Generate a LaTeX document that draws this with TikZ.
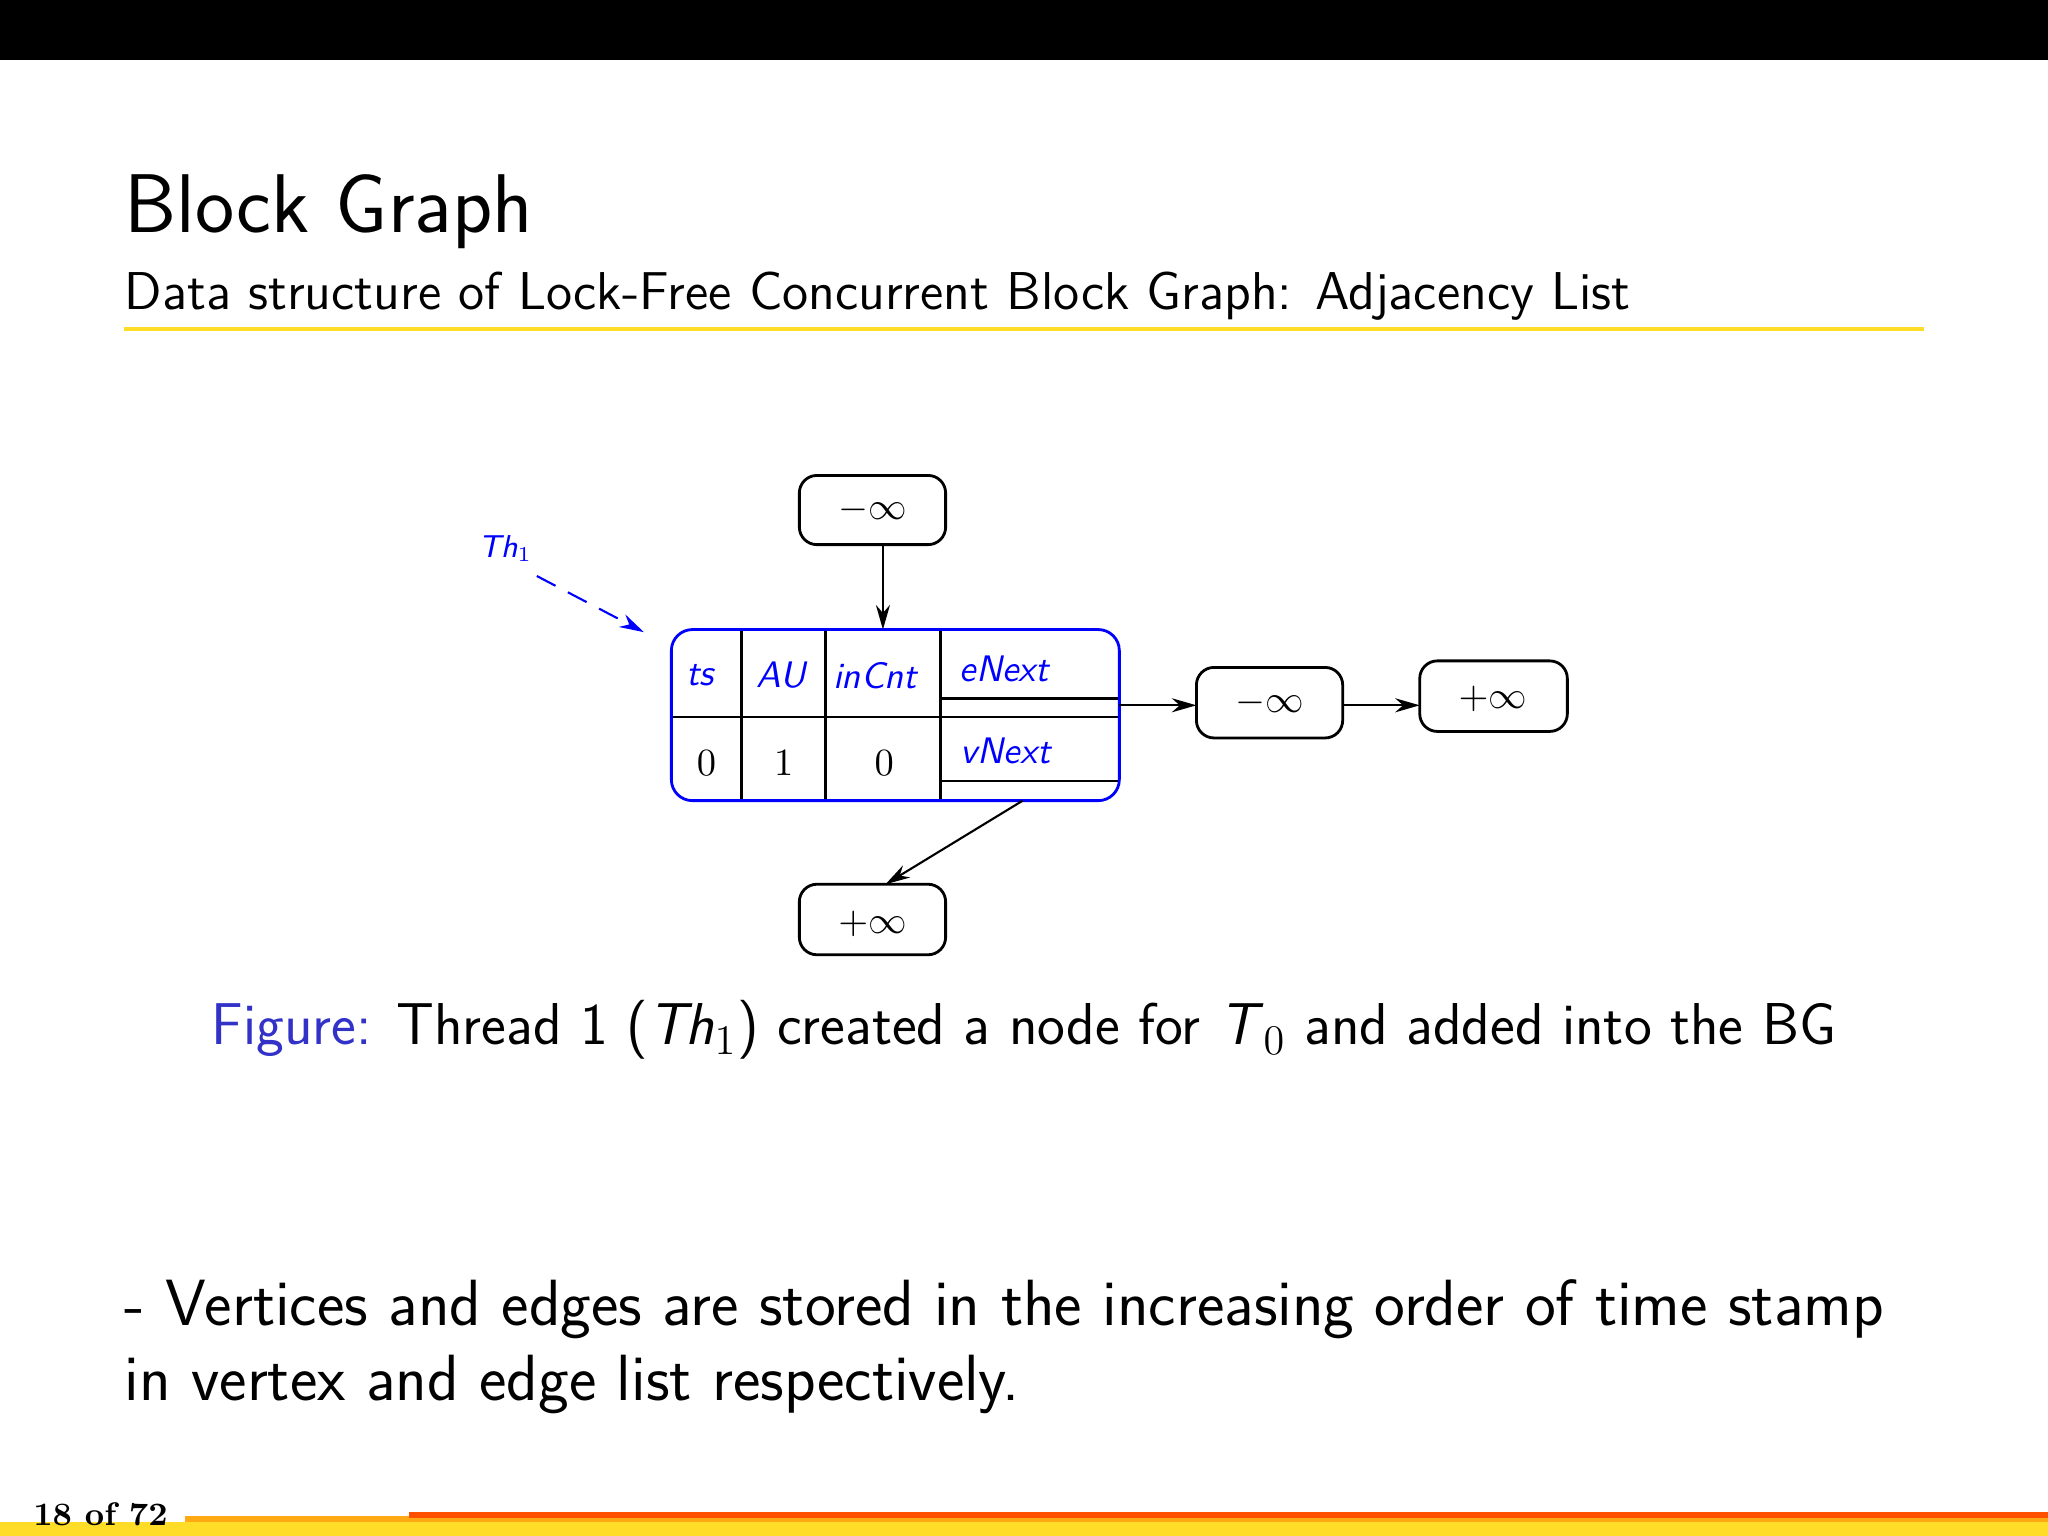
\documentclass[tikz,border=0pt]{standalone}
\usetikzlibrary{arrows.meta}
\definecolor{fig}{RGB}{50,50,200}
\definecolor{ylw}{RGB}{255,220,40}
\definecolor{org}{RGB}{255,170,20}
\definecolor{rd}{RGB}{255,80,0}
\begin{document}
\begin{tikzpicture}[x=0.013061cm,y=-0.013061cm,
  box/.style={draw,rounded corners=5pt,line width=0.8pt},
  arr/.style={-{Stealth[length=7pt,width=4pt]},line width=0.6pt},
  lab/.style={font=\sffamily\itshape\fontsize{10.5}{12}\selectfont,text=blue},
  inf/.style={font=\fontsize{11}{12}\selectfont}]
\useasboundingbox (0,0) rectangle (1568,1176);
\fill[black] (0,0) rectangle (1568,46);
\node[anchor=base west,inner sep=0,font=\sffamily\fontsize{23.7}{28}\selectfont] (title) at (95,178) {Block Graph};
\node[anchor=base west,inner sep=0,font=\sffamily\fontsize{15.15}{18}\selectfont] (sub) at (95,237) {Data structure of Lock-Free Concurrent Block Graph: Adjacency List};
\fill[ylw] (95,250.5) rectangle (1473,253.5);
% boxes
\draw[box] (612,364) rectangle (724,417); \node[inf] (mtop) at (668,390) {$-\infty$};
\draw[box] (916,511) rectangle (1028,565); \node[inf] (m2) at (972,538) {$-\infty$};
\draw[box] (1087,506) rectangle (1200,560); \node[inf] (p2) at (1143,535) {$+\infty$};
\draw[box] (612,677) rectangle (724,731); \node[inf] (pbot) at (668,707) {$+\infty$};
% table
\draw[line width=0.8pt] (568,482)--(568,613) (632,482)--(632,613) (720,482)--(720,613)
  (514,549)--(857,549) (720,535)--(857,535) (720,598)--(857,598);
\draw[blue,line width=0.8pt,rounded corners=6pt] (514,482) rectangle (857,613);
\node[lab] (ts) at (536,517) {ts};
\node[lab] (au) at (598,517) {AU};
\node[lab] (ic) at (670,517) {inCnt};
\node[lab] (en) at (769,512) {eNext};
\node[lab] (vn) at (770,575) {vNext};
\node[inf] (c0) at (541,584) {$0$};
\node[inf] (c1) at (600,584) {$1$};
\node[inf] (c2) at (677,584) {$0$};
\coordinate (tabtop) at (676,482);
\coordinate (enr) at (857,540);
\coordinate (vnb) at (783,613);
\draw[arr] (676,417) -- (tabtop);
\draw[arr] (enr) -- (916,540);
\draw[arr] (1028,540) -- (1087,540);
\draw[arr] (vnb) -- (678,677);
\node[font=\sffamily\itshape\fontsize{9}{10}\selectfont,text=blue] (th) at (387,420) {Th$_1$};
\coordinate (thend) at (493,484);
\draw[arr,blue,dashed,dash pattern=on 6pt off 4pt] (411,441) -- (thend);
% caption
\node[anchor=base,inner sep=0,font=\sffamily\fontsize{16.8}{19}\selectfont] (cap) at (784,800)
 {\textcolor{fig}{Figure:} Thread 1 (\textit{Th}$_1$) created a node for \textit{T}$_0$ and added into the BG};
\node[anchor=base west,inner sep=0,font=\sffamily\fontsize{18.6}{21}\selectfont] (b1) at (95,1015) {- Vertices and edges are stored in the increasing order of time stamp};
\node[anchor=base west,inner sep=0,font=\sffamily\fontsize{18.6}{21}\selectfont] (b2) at (95,1072) {in vertex and edge list respectively.};
% footer
\fill[ylw] (0,1165) rectangle (1568,1176);
\fill[org] (142,1161) rectangle (1568,1165);
\fill[rd] (313,1158) rectangle (1568,1162);
\node[anchor=base west,inner sep=0,font=\bfseries\fontsize{9.3}{10}\selectfont] (pg) at (25,1168) {18 of 72};
\end{tikzpicture}
\end{document}
